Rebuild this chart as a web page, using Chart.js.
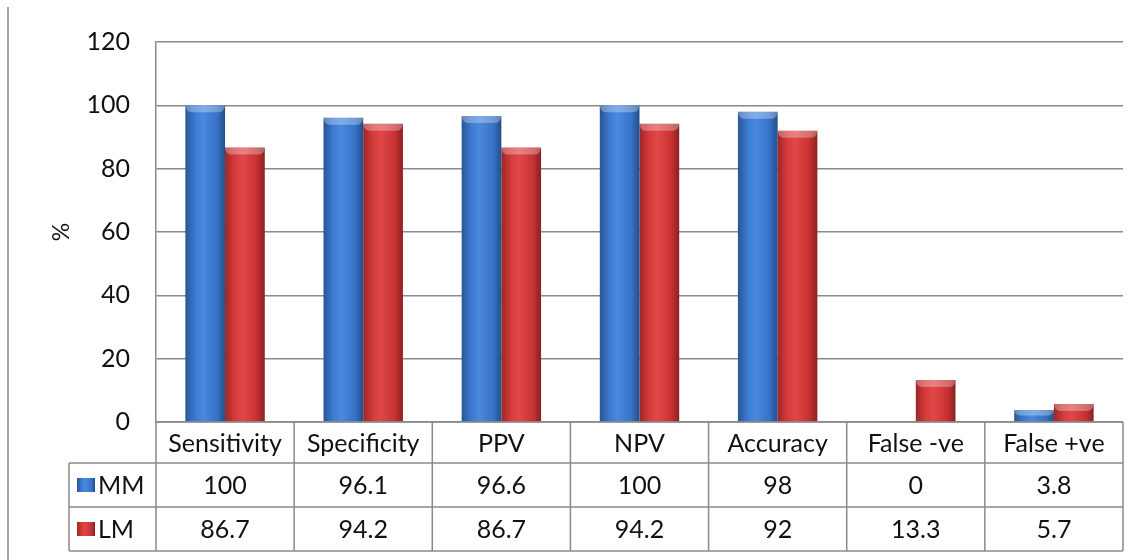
<!DOCTYPE html>
<html>
<head>
<meta charset="utf-8">
<script src="https://cdn.jsdelivr.net/npm/chart.js@4.4.1/dist/chart.umd.min.js"></script>
<style>
  body { margin: 0; background: #fff; }
  #wrap { width: 1145px; height: 560px; }
</style>
</head>
<body>
<div id="wrap"><canvas id="c" width="1145" height="560"></canvas></div>
<script>
// data
const categories = ['Sensitivity', 'Specificity', 'PPV', 'NPV', 'Accuracy', 'False -ve', 'False +ve'];
const seriesNames = ['MM', 'LM'];
const mmValues = [100, 96.1, 96.6, 100, 98, 0, 3.8];
const lmValues = [86.7, 94.2, 86.7, 94.2, 92, 13.3, 5.7];
const yTicks = [0, 20, 40, 60, 80, 100, 120];

const FONT = 'Lato';
const textCol = '#111';
const lineCol = '#8a8a8a';
const blueStops = ['#2a5595', '#3b7bd4', '#4a89df', '#3672c6', '#244d88'];
const redStops = ['#9c2727', '#d63b3b', '#e04848', '#c63131', '#8b2121'];

function makeGrad(ctx, x0, x1, stops) {
    const g = ctx.createLinearGradient(x0, 0, x1, 0);
    g.addColorStop(0, stops[0]);
    g.addColorStop(0.25, stops[1]);
    g.addColorStop(0.45, stops[2]);
    g.addColorStop(0.8, stops[3]);
    g.addColorStop(1, stops[4]);
    return g;
}

// horizontal shading, computed from the x scale
function barFill(stops) {
    return function (c) {
        const chart = c.chart;
        const x = chart.scales.x;
        if (!x || !chart.chartArea) return stops[1];
        const catW = x.width / categories.length;
        const barW = catW * 0.575 / 2;
        const center = x.getPixelForValue(c.dataIndex);
        const x0 = c.datasetIndex === 0 ? center - barW : center;
        return makeGrad(chart.ctx, x0, x0 + barW, stops);
    };
}

const tablePlugin = {
    id: 'dataTable',
    afterDatasetsDraw(chart) {
        // lighter bevel at the top of each bar
        const ctx = chart.ctx;
        chart.data.datasets.forEach((ds, i) => {
            chart.getDatasetMeta(i).data.forEach(bar => {
                const h = bar.base - bar.y;
                if (h < 3) return;
                const capH = Math.min(7, h / 2);
                const l = bar.x - bar.width / 2, r = bar.x + bar.width / 2;
                ctx.save();
                ctx.fillStyle = 'rgba(255,255,255,0.3)';
                ctx.beginPath();
                ctx.moveTo(l, bar.y);
                ctx.lineTo(r, bar.y);
                ctx.quadraticCurveTo(r - 1, bar.y + capH, r - 6, bar.y + capH);
                ctx.lineTo(l + 6, bar.y + capH);
                ctx.quadraticCurveTo(l + 1, bar.y + capH, l, bar.y);
                ctx.closePath();
                ctx.fill();
                ctx.restore();
            });
        });
    },
    afterDraw(chart) {
        const ctx = chart.ctx;
        const x = chart.scales.x;
        const area = chart.chartArea;
        const catW = x.width / categories.length;
        const top = area.bottom;
        const rowY = [top, top + 41, top + 85, top + 129];
        const legendLeft = 69;

        ctx.save();
        ctx.strokeStyle = lineCol;
        ctx.lineWidth = 1.5;
        ctx.beginPath();
        // outer frame line on the left
        ctx.moveTo(8, 7); ctx.lineTo(8, 560);
        // horizontal rules
        ctx.moveTo(area.left, rowY[0]); ctx.lineTo(area.right, rowY[0]);
        for (let r = 1; r < 4; r++) {
            ctx.moveTo(legendLeft, rowY[r]); ctx.lineTo(area.right, rowY[r]);
        }
        // verticals
        ctx.moveTo(legendLeft, rowY[1]); ctx.lineTo(legendLeft, rowY[3]);
        for (let k = 0; k <= categories.length; k++) {
            const vx = area.left + k * catW;
            ctx.moveTo(vx, rowY[0]); ctx.lineTo(vx, rowY[3]);
        }
        ctx.stroke();

        ctx.fillStyle = textCol;
        ctx.font = '25px ' + FONT;
        ctx.textAlign = 'center';
        ctx.textBaseline = 'middle';
        categories.forEach((cat, i) => {
            const cx = x.getPixelForValue(i);
            ctx.fillText(cat, cx, (rowY[0] + rowY[1]) / 2 + 1);
            ctx.fillText(String(mmValues[i]), cx, (rowY[1] + rowY[2]) / 2 + 1);
            ctx.fillText(String(lmValues[i]), cx, (rowY[2] + rowY[3]) / 2 + 1);
        });

        // legend keys + series names
        [blueStops, redStops].forEach((stops, s) => {
            const cy = (rowY[s + 1] + rowY[s + 2]) / 2;
            ctx.fillStyle = makeGrad(ctx, 77, 95, stops);
            ctx.fillRect(77, cy - 7, 18, 14);
            ctx.fillStyle = textCol;
            ctx.textAlign = 'left';
            ctx.fillText(seriesNames[s], 98, cy + 1);
        });
        ctx.restore();
    }
};

new Chart(document.getElementById('c'), {
    type: 'bar',
    data: {
        labels: categories,
        datasets: [
            { label: seriesNames[0], data: mmValues, backgroundColor: barFill(blueStops) },
            { label: seriesNames[1], data: lmValues, backgroundColor: barFill(redStops) }
        ]
    },
    options: {
        responsive: false,
        animation: false,
        layout: { padding: { top: 42, right: 22, bottom: 138, left: 0 } },
        datasets: { bar: { categoryPercentage: 0.575, barPercentage: 1 } },
        plugins: { legend: { display: false }, tooltip: { enabled: false } },
        scales: {
            x: { display: false },
            y: {
                min: 0,
                max: 120,
                afterBuildTicks: s => { s.ticks = yTicks.map(v => ({ value: v })); },
                afterFit: s => { s.width = 156; },
                grid: { color: lineCol, lineWidth: 1.5, drawTicks: false },
                border: { display: true, color: lineCol, width: 1.5 },
                ticks: { padding: 26, color: textCol, font: { family: FONT, size: 25 } },
                title: { display: true, text: '%', color: textCol, font: { family: FONT, size: 23 }, padding: { top: 48 } }
            }
        }
    },
    plugins: [tablePlugin]
});
</script>
</body>
</html>
